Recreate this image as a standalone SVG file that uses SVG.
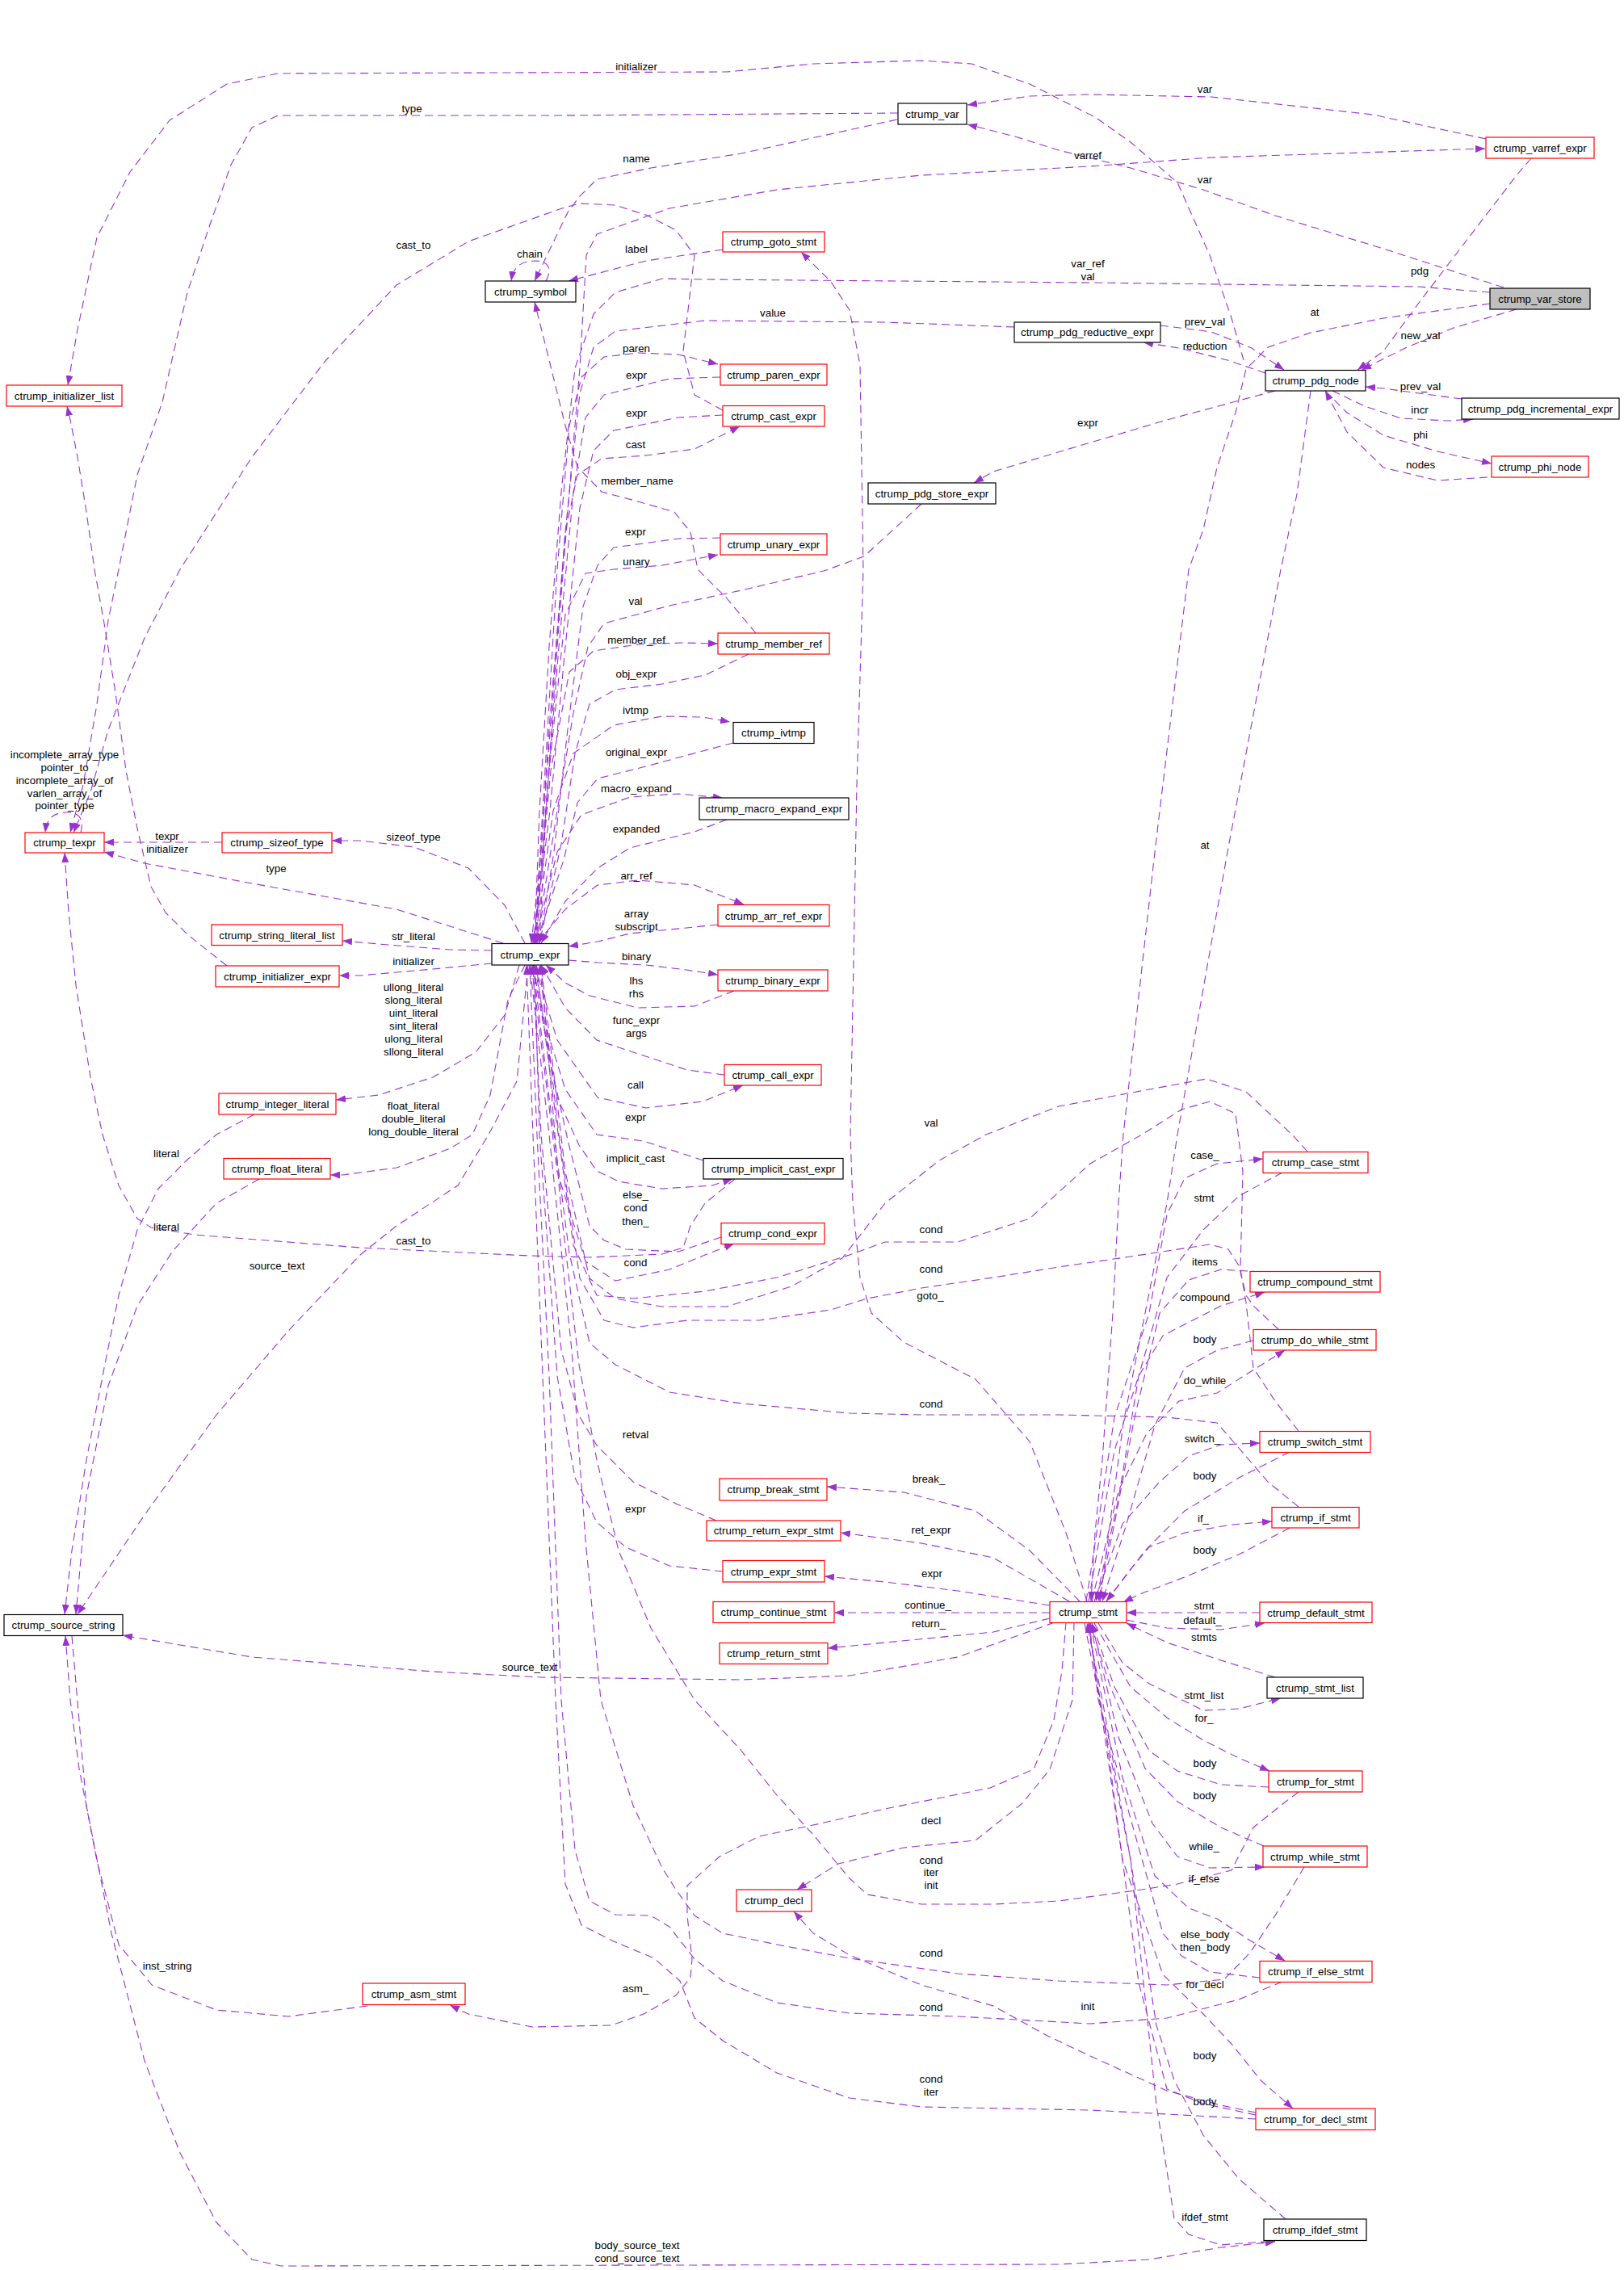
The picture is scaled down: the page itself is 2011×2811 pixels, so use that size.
<svg xmlns="http://www.w3.org/2000/svg" width="2011" height="2811" viewBox="0 0 2011 2811">
<defs>
<marker id="a" viewBox="0 0 12 9" refX="12" refY="4.5" markerWidth="12" markerHeight="9" markerUnits="userSpaceOnUse" orient="auto"><path d="M0,0 L12,4.5 L0,9 z" fill="#9a32cd"/></marker>
</defs>
<style>
text{font-family:"Liberation Sans",Arial,sans-serif;font-size:13.3px;fill:#000;text-anchor:middle;dominant-baseline:central}
.nd rect{fill:#fff;stroke-width:1.2}
.r rect{stroke:#ff0000}
.k rect{stroke:#000}
#edges path{fill:none;stroke:#9a32cd;stroke-width:1.1;stroke-dasharray:10,6;stroke-linejoin:round;marker-end:url(#a)}
</style>
<rect x="0" y="0" width="2011" height="2811" fill="#fff"/>
<g id="edges">
<path d="M1540,446 L1525,394 1498,316 1458,226 1400,176 1356,145 1275,104 1203,79 1141,75 1007,79 900,89 344,91 281,104 210,149 161,213 120,294 96,408 84,477"/>
<path d="M1840,172 L1700,142 1500,120 1350,117 1275,119 1198,130"/>
<path d="M1862,356 L1713,308 1579,267 1490,235 1400,208 1311,186 1260,170 1198,154"/>
<path d="M668,1168 L676,1004 690,801 705,609 718,456 726,316 739,290 829,258 962,235 1141,217 1350,206 1500,195 1839,184"/>
<path d="M1845,362 L1757,355 1350,350 873,346 820,345 762,362 735,389 712,456 695,609 680,801 668,1004 662,1168"/>
<path d="M1256,405 L1096,399 873,397 762,410 735,430 718,487 700,659 685,852 670,1055 658,1168"/>
<path d="M892,467 L829,469 748,489 725,517 710,609 692,801 676,1004 664,1168"/>
<path d="M895,514 L840,517 760,533 735,558 718,629 700,801 681,1004 660,1168"/>
<path d="M892,666 L840,667 760,678 740,700 722,751 703,903 686,1055 668,1168"/>
<path d="M1141,624 L1070,689 1020,707 918,731 829,750 748,772 728,801 710,883 690,1004 664,1168"/>
<path d="M927,810 L873,836 820,847 762,854 730,872 712,933 695,1045 668,1168"/>
<path d="M908,920 L870,930 800,949 740,964 715,994 698,1065 664,1168"/>
<path d="M900,1015 L860,1030 780,1050 740,1075 700,1116 670,1168"/>
<path d="M889,1145 L850,1149 780,1156 740,1166 704,1172"/>
<path d="M662,1168 L675,954 690,705 705,527 720,467 748,442 790,437 840,439 889,451"/>
<path d="M662,1168 L680,903 700,659 715,588 745,568 800,564 860,556 916,528"/>
<path d="M662,1168 L680,954 700,761 725,710 760,705 820,700 889,687"/>
<path d="M662,1168 L682,954 705,832 735,806 790,798 845,796 889,797"/>
<path d="M662,1168 L685,1004 710,933 760,898 820,887 870,888 904,894"/>
<path d="M662,1168 L690,1055 720,1009 780,987 840,983 895,988"/>
<path d="M665,1168 L700,1126 740,1096 790,1090 860,1096 921,1120"/>
<path d="M650,1168 L625,1121 580,1075 513,1049 446,1041 411,1041"/>
<path d="M623,1168 L491,1126 312,1094 179,1069 129,1055"/>
<path d="M704,1189 L740,1192 800,1195 850,1201 889,1207"/>
<path d="M909,1227 L860,1246 790,1248 730,1233 700,1217 676,1195"/>
<path d="M897,1331 L851,1325 739,1288 700,1248 670,1195"/>
<path d="M662,1195 L690,1288 740,1359 800,1372 870,1364 920,1344"/>
<path d="M871,1437 L797,1413 739,1405 700,1349 675,1268 662,1195"/>
<path d="M660,1195 L690,1359 717,1418 739,1450 766,1463 820,1472 882,1468 907,1460"/>
<path d="M893,1532 L840,1550 775,1547 748,1536 730,1518 705,1420 680,1309 660,1195"/>
<path d="M658,1195 L690,1451 725,1562 762,1586 829,1572 873,1554 909,1540"/>
<path d="M910,1460 L873,1490 855,1518 846,1545 820,1553 730,1557 656,1555 446,1545 241,1529 187,1520 170,1509 147,1468 127,1405 112,1334 94,1220 85,1130 80,1056"/>
<path d="M609,1177 L558,1176 469,1169 424,1165"/>
<path d="M609,1193 L536,1200 446,1208 420,1208"/>
<path d="M643,1195 L625,1257 589,1303 536,1334 469,1356 416,1362"/>
<path d="M650,1195 L629,1238 607,1356 585,1405 558,1422 491,1446 424,1455 409,1455"/>
<path d="M654,1195 L640,1339 605,1405 567,1468 491,1518 446,1554 357,1648 268,1752 179,1876 96,1999"/>
<path d="M315,1380 L268,1405 232,1436 196,1472 170,1523 147,1604 129,1694 107,1808 89,1920 80,1999"/>
<path d="M321,1460 L268,1490 214,1549 170,1617 134,1716 107,1852 94,1999"/>
<path d="M887,1883 L837,1862 784,1835 739,1790 717,1753 695,1672 670,1405 660,1195"/>
<path d="M895,1946 L829,1939 775,1916 739,1885 712,1830 690,1704 668,1405 662,1195"/>
<path d="M1619,1426 L1601,1406 1543,1352 1494,1336 1396,1354 1311,1370 1221,1405 1163,1437 1096,1490 1043,1558 980,1593 900,1618 820,1618 762,1608 730,1583 700,1451 670,1195"/>
<path d="M1608,1772 L1579,1735 1552,1694 1543,1613 1536,1572 1539,1451 1530,1379 1498,1364 1463,1374 1414,1405 1350,1441 1275,1509 1186,1538 1096,1538 1052,1554 962,1582 873,1599 784,1608 739,1604 710,1542 685,1359 664,1195"/>
<path d="M1583,1646 L1552,1617 1543,1604 1534,1567 1521,1547 1498,1541 1400,1556 1311,1569 1230,1582 1141,1595 1074,1608 1029,1622 940,1635 851,1635 784,1644 748,1635 718,1583 692,1405 668,1195"/>
<path d="M1608,1866 L1570,1835 1534,1793 1507,1762 1445,1755 1311,1752 1141,1752 1052,1750 918,1738 829,1724 762,1690 730,1663 705,1552 680,1359 660,1195"/>
<path d="M1608,2219 L1592,2231 1552,2263 1525,2316 1458,2333 1414,2340 1311,2354 1230,2358 1141,2358 1074,2346 1052,2326 1007,2272 962,2223 918,2168 860,2105 806,2016 766,1920 739,1808 717,1690 695,1501 670,1195"/>
<path d="M1615,2312 L1579,2372 1548,2418 1516,2451 1445,2458 1311,2453 1186,2444 1052,2425 962,2408 895,2394 860,2372 837,2340 820,2313 784,2236 744,2105 725,1907 708,1672 680,1405 656,1195"/>
<path d="M1588,2454 L1534,2476 1445,2499 1350,2506 1186,2497 1052,2493 962,2480 895,2453 860,2426 829,2386 806,2372 762,2371 730,2354 712,2291 695,2105 680,1704 665,1405 656,1195"/>
<path d="M1555,2624 L1445,2618 1350,2613 1141,2609 1052,2598 962,2567 895,2527 860,2499 842,2453 810,2425 760,2404 720,2384 700,2333 688,2105 672,1704 660,1405 652,1195"/>
<path d="M1346,1983 L1320,1898 1275,1785 1208,1708 1119,1662 1079,1626 1065,1582 1056,1490 1053,1405 1061,972 1069,705 1065,452 1052,384 1029,349 992,312"/>
<path d="M1337,1983 L1275,1920 1208,1871 1119,1848 1024,1841"/>
<path d="M1324,1983 L1230,1929 1141,1911 1041,1898"/>
<path d="M1300,1988 L1186,1970 1096,1959 1021,1952"/>
<path d="M1300,1997 L1033,1997"/>
<path d="M1300,2004 L1230,2021 1096,2034 1025,2041"/>
<path d="M1306,2009 L1186,2052 1052,2075 918,2080 670,2077 536,2070 312,2052 152,2025"/>
<path d="M1320,2009 L1315,2069 1305,2130 1280,2191 1226,2214 1096,2240 1007,2260 940,2274 891,2299 851,2335 851,2372 857,2426 855,2449 837,2471 797,2494 757,2508 659,2510 580,2494 557,2483"/>
<path d="M1330,2009 L1328,2105 1300,2191 1266,2233 1208,2279 1119,2288 1038,2308 987,2340"/>
<path d="M1555,2616 L1512,2607 1445,2589 1350,2546 1297,2521 1230,2484 1141,2458 1052,2421 1007,2394 983,2367"/>
<path d="M1845,376 L1713,394 1623,412 1570,430 1543,457 1530,511 1507,579 1490,656 1472,705 1430,1055 1391,1405 1385,1490 1378,1626 1365,1808 1356,1898 1351,1983"/>
<path d="M1623,484 L1606,612 1586,705 1520,1055 1458,1405 1445,1490 1418,1626 1391,1762 1373,1898 1362,1983"/>
<path d="M1588,1452 L1534,1481 1490,1523 1445,1582 1410,1704 1385,1856 1357,1983"/>
<path d="M1561,1575 L1512,1572 1472,1585 1436,1626 1405,1755 1380,1887 1360,1983"/>
<path d="M1552,1660 L1507,1672 1467,1694 1430,1765 1395,1887 1365,1983"/>
<path d="M1597,1798 L1534,1830 1467,1871 1418,1920 1370,1983"/>
<path d="M1597,1892 L1534,1925 1467,1953 1414,1973 1391,1984"/>
<path d="M1560,1997 L1395,1997"/>
<path d="M1345,1983 L1380,1755 1423,1626 1445,1504 1467,1459 1507,1441 1564,1435"/>
<path d="M1348,1983 L1380,1796 1410,1704 1440,1654 1467,1640 1512,1617 1566,1600"/>
<path d="M1352,1983 L1385,1846 1420,1775 1460,1735 1507,1725 1548,1699 1591,1672"/>
<path d="M1355,1983 L1390,1887 1436,1835 1472,1803 1512,1789 1560,1787"/>
<path d="M1370,1983 L1400,1943 1423,1916 1467,1898 1525,1888 1575,1884"/>
<path d="M1395,2006 L1445,2016 1512,2018 1566,2010"/>
<path d="M1579,2077 L1512,2056 1445,2034 1395,2010"/>
<path d="M1360,2010 L1390,2059 1423,2085 1490,2118 1534,2116 1586,2103"/>
<path d="M1355,2010 L1400,2089 1445,2127 1490,2155 1534,2177 1572,2193"/>
<path d="M1571,2213 L1512,2210 1458,2193 1423,2168 1380,2089 1352,2010"/>
<path d="M1565,2286 L1512,2263 1458,2231 1418,2190 1375,2089 1350,2010"/>
<path d="M1352,2010 L1385,2151 1427,2258 1458,2299 1498,2313 1566,2312"/>
<path d="M1350,2010 L1390,2201 1430,2323 1472,2363 1507,2376 1548,2403 1591,2428"/>
<path d="M1560,2449 L1498,2442 1463,2422 1440,2394 1400,2252 1360,2105 1349,2010"/>
<path d="M1348,2010 L1390,2303 1440,2445 1490,2494 1525,2531 1561,2576 1601,2611"/>
<path d="M1555,2619 L1490,2605 1445,2587 1410,2455 1370,2151 1347,2010"/>
<path d="M1592,2748 L1534,2698 1490,2644 1454,2576 1432,2508 1400,2303 1365,2105 1346,2010"/>
<path d="M1343,2010 L1400,2303 1432,2607 1445,2688 1454,2747 1472,2767 1512,2780 1579,2775"/>
<path d="M89,2026 L107,2236 138,2394 179,2552 223,2666 268,2752 312,2798 348,2806 1311,2804 1423,2798 1512,2783 1579,2776"/>
<path d="M455,2484 L357,2497 268,2489 188,2458 147,2408 120,2304 98,2190 87,2105 81,2026"/>
<path d="M1437,403 L1500,411 1550,431 1590,458"/>
<path d="M1567,462 L1520,446 1460,431 1416,424"/>
<path d="M1896,196 L1878,217 1815,299 1757,375 1713,435 1681,458"/>
<path d="M1878,383 L1800,406 1740,431 1686,458"/>
<path d="M1810,494 L1757,487 1713,481 1691,479"/>
<path d="M1650,484 L1690,503 1735,518 1793,521 1824,519"/>
<path d="M1641,484 L1668,511 1713,539 1780,559 1847,574"/>
<path d="M1842,591 L1780,595 1713,579 1668,535 1641,484"/>
<path d="M1579,484 L1445,520 1320,557 1230,584 1206,598"/>
<path d="M676,348 C684,334 680,324 665,323 C648,323 636,327 633,348"/>
<path d="M1111,148 L918,190 806,208 739,222 717,244 703,263 677,317 662,348"/>
<path d="M895,309 L800,323 704,348"/>
<path d="M936,784 L900,741 864,705 855,659 835,634 790,621 745,609 715,578 700,527 680,446 662,374"/>
<path d="M1112,140 L690,143 344,143 312,158 286,204 259,281 232,362 201,498 170,588 147,705 134,768 120,872 103,972 87,1031"/>
<path d="M895,508 L860,489 846,435 860,316 837,285 802,267 762,254 717,252 696,258 580,299 491,353 402,448 312,566 223,705 179,790 134,904 112,981 91,1031"/>
<path d="M100,1031 C104,1014 98,1006 84,1006 C68,1006 58,1011 56,1031"/>
<path d="M275,1043 L129,1043"/>
<path d="M281,1196 L232,1157 205,1130 187,1098 170,1026 156,954 143,858 129,772 117,705 107,634 96,566 87,520 83,503"/>
</g>
<g id="labels">
<text x="788" y="82">initializer</text>
<text x="510" y="134">type</text>
<text x="1492" y="110">var</text>
<text x="1347" y="192">varref</text>
<text x="1492" y="222">var</text>
<text x="788" y="196">name</text>
<text x="656" y="314">chain</text>
<text x="788" y="308">label</text>
<text x="512" y="303">cast_to</text>
<text x="1347" y="326">var_ref</text>
<text x="1347" y="342">val</text>
<text x="1758" y="335">pdg</text>
<text x="1628" y="386">at</text>
<text x="1759" y="415">new_val</text>
<text x="1492" y="398">prev_val</text>
<text x="1492" y="428">reduction</text>
<text x="957" y="387">value</text>
<text x="788" y="431">paren</text>
<text x="788" y="464">expr</text>
<text x="788" y="511">expr</text>
<text x="787" y="550">cast</text>
<text x="1759" y="478">prev_val</text>
<text x="1758" y="507">incr</text>
<text x="1759" y="538">phi</text>
<text x="1759" y="575">nodes</text>
<text x="1347" y="523">expr</text>
<text x="789" y="595">member_name</text>
<text x="787" y="658">expr</text>
<text x="788" y="695">unary</text>
<text x="787" y="744">val</text>
<text x="788" y="792">member_ref</text>
<text x="788" y="834">obj_expr</text>
<text x="787" y="879">ivtmp</text>
<text x="788" y="931">original_expr</text>
<text x="788" y="976">macro_expand</text>
<text x="788" y="1026">expanded</text>
<text x="788" y="1084">arr_ref</text>
<text x="788" y="1131">array</text>
<text x="788" y="1147">subscript</text>
<text x="788" y="1184">binary</text>
<text x="788" y="1214">lhs</text>
<text x="788" y="1230">rhs</text>
<text x="788" y="1263">func_expr</text>
<text x="788" y="1279">args</text>
<text x="787" y="1343">call</text>
<text x="787" y="1383">expr</text>
<text x="787" y="1434">implicit_cast</text>
<text x="787" y="1479">else_</text>
<text x="787" y="1495">cond</text>
<text x="787" y="1512">then_</text>
<text x="787" y="1563">cond</text>
<text x="787" y="1776">retval</text>
<text x="787" y="1868">expr</text>
<text x="80" y="934">incomplete_array_type</text>
<text x="80" y="950">pointer_to</text>
<text x="80" y="966">incomplete_array_of</text>
<text x="80" y="982">varlen_array_of</text>
<text x="80" y="997">pointer_type</text>
<text x="207" y="1035">texpr</text>
<text x="207" y="1051">initializer</text>
<text x="342" y="1075">type</text>
<text x="512" y="1036">sizeof_type</text>
<text x="512" y="1159">str_literal</text>
<text x="512" y="1190">initializer</text>
<text x="512" y="1222">ullong_literal</text>
<text x="512" y="1238">slong_literal</text>
<text x="512" y="1254">uint_literal</text>
<text x="512" y="1270">sint_literal</text>
<text x="512" y="1286">ulong_literal</text>
<text x="512" y="1302">sllong_literal</text>
<text x="512" y="1369">float_literal</text>
<text x="512" y="1385">double_literal</text>
<text x="512" y="1401">long_double_literal</text>
<text x="206" y="1428">literal</text>
<text x="206" y="1519">literal</text>
<text x="512" y="1536">cast_to</text>
<text x="343" y="1567">source_text</text>
<text x="1492" y="1046">at</text>
<text x="1153" y="1390">val</text>
<text x="1153" y="1522">cond</text>
<text x="1153" y="1571">cond</text>
<text x="1152" y="1604">goto_</text>
<text x="1153" y="1738">cond</text>
<text x="1150" y="1831">break_</text>
<text x="1153" y="1894">ret_expr</text>
<text x="1154" y="1948">expr</text>
<text x="1149" y="1987">continue_</text>
<text x="1150" y="2010">return_</text>
<text x="656" y="2064">source_text</text>
<text x="1492" y="1430">case_</text>
<text x="1491" y="1483">stmt</text>
<text x="1492" y="1562">items</text>
<text x="1492" y="1606">compound</text>
<text x="1492" y="1658">body</text>
<text x="1492" y="1709">do_while</text>
<text x="1489" y="1781">switch_</text>
<text x="1492" y="1827">body</text>
<text x="1490" y="1880">if_</text>
<text x="1492" y="1919">body</text>
<text x="1491" y="1988">stmt</text>
<text x="1489" y="2006">default_</text>
<text x="1491" y="2027">stmts</text>
<text x="1491" y="2099">stmt_list</text>
<text x="1491" y="2127">for_</text>
<text x="1492" y="2183">body</text>
<text x="1492" y="2223">body</text>
<text x="1491" y="2286">while_</text>
<text x="1491" y="2326">if_else</text>
<text x="1492" y="2395">else_body</text>
<text x="1492" y="2411">then_body</text>
<text x="1492" y="2457">for_decl</text>
<text x="1347" y="2484">init</text>
<text x="1492" y="2545">body</text>
<text x="1492" y="2602">body</text>
<text x="1492" y="2745">ifdef_stmt</text>
<text x="1153" y="2254">decl</text>
<text x="1153" y="2303">cond</text>
<text x="1153" y="2318">iter</text>
<text x="1153" y="2334">init</text>
<text x="1153" y="2418">cond</text>
<text x="1153" y="2485">cond</text>
<text x="1153" y="2574">cond</text>
<text x="1153" y="2590">iter</text>
<text x="787" y="2462">asm_</text>
<text x="207" y="2434">inst_string</text>
<text x="789" y="2780">body_source_text</text>
<text x="789" y="2796">cond_source_text</text>
</g>
<g id="nodes">
<g id="n_initializer_list" class="nd r"><rect x="8" y="477" width="143" height="26"/><text x="79.5" y="490">ctrump_initializer_list</text></g>
<g id="n_symbol" class="nd k"><rect x="601" y="348" width="112" height="26"/><text x="657" y="361">ctrump_symbol</text></g>
<g id="n_var" class="nd k"><rect x="1112" y="128" width="85" height="26"/><text x="1154.5" y="141">ctrump_var</text></g>
<g id="n_goto_stmt" class="nd r"><rect x="895" y="287" width="126" height="25"/><text x="958" y="299.5">ctrump_goto_stmt</text></g>
<g id="n_pdg_reductive_expr" class="nd k"><rect x="1256" y="399" width="181" height="25"/><text x="1346.5" y="411.5">ctrump_pdg_reductive_expr</text></g>
<g id="n_paren_expr" class="nd r"><rect x="892" y="451" width="132" height="26"/><text x="958" y="464">ctrump_paren_expr</text></g>
<g id="n_cast_expr" class="nd r"><rect x="895" y="502.5" width="126" height="25.5"/><text x="958" y="515">ctrump_cast_expr</text></g>
<g id="n_pdg_store_expr" class="nd k"><rect x="1075" y="598" width="158" height="26"/><text x="1154" y="611">ctrump_pdg_store_expr</text></g>
<g id="n_unary_expr" class="nd r"><rect x="892" y="661" width="132" height="26"/><text x="958" y="674">ctrump_unary_expr</text></g>
<g id="n_varref_expr" class="nd r"><rect x="1840" y="170" width="134" height="26"/><text x="1907" y="183">ctrump_varref_expr</text></g>
<g id="n_var_store" class="nd k"><rect x="1845" y="357" width="124" height="26" style="fill:#bfbfbf"/><text x="1907" y="370">ctrump_var_store</text></g>
<g id="n_pdg_node" class="nd k"><rect x="1567" y="458.5" width="124" height="25.5"/><text x="1629" y="471">ctrump_pdg_node</text></g>
<g id="n_pdg_incremental_expr" class="nd k"><rect x="1810" y="493" width="195" height="26"/><text x="1907.5" y="506">ctrump_pdg_incremental_expr</text></g>
<g id="n_phi_node" class="nd r"><rect x="1847" y="565" width="120" height="26"/><text x="1907" y="578">ctrump_phi_node</text></g>
<g id="n_texpr" class="nd r"><rect x="31" y="1031" width="98" height="25"/><text x="80" y="1043.5">ctrump_texpr</text></g>
<g id="n_sizeof_type" class="nd r"><rect x="275" y="1031" width="136" height="25"/><text x="343" y="1043.5">ctrump_sizeof_type</text></g>
<g id="n_string_literal_list" class="nd r"><rect x="262" y="1145" width="162" height="25.5"/><text x="343" y="1158">ctrump_string_literal_list</text></g>
<g id="n_initializer_expr" class="nd r"><rect x="267" y="1196" width="153" height="26"/><text x="343.5" y="1209">ctrump_initializer_expr</text></g>
<g id="n_expr" class="nd k"><rect x="609" y="1168.5" width="95" height="26.5"/><text x="656.5" y="1182">ctrump_expr</text></g>
<g id="n_integer_literal" class="nd r"><rect x="271" y="1354" width="145" height="26"/><text x="343.5" y="1367">ctrump_integer_literal</text></g>
<g id="n_member_ref" class="nd r"><rect x="889" y="784" width="138" height="26"/><text x="958" y="797">ctrump_member_ref</text></g>
<g id="n_ivtmp" class="nd k"><rect x="908" y="894.5" width="100" height="26"/><text x="958" y="907.5">ctrump_ivtmp</text></g>
<g id="n_macro_expand_expr" class="nd k"><rect x="866" y="988" width="185" height="27"/><text x="958.5" y="1001.5">ctrump_macro_expand_expr</text></g>
<g id="n_arr_ref_expr" class="nd r"><rect x="889" y="1120.5" width="138" height="26.5"/><text x="958" y="1134">ctrump_arr_ref_expr</text></g>
<g id="n_binary_expr" class="nd r"><rect x="889" y="1201" width="136" height="26"/><text x="957" y="1214">ctrump_binary_expr</text></g>
<g id="n_call_expr" class="nd r"><rect x="897" y="1318.5" width="120" height="25.5"/><text x="957" y="1331">ctrump_call_expr</text></g>
<g id="n_float_literal" class="nd r"><rect x="277" y="1434.5" width="132" height="25.5"/><text x="343" y="1447">ctrump_float_literal</text></g>
<g id="n_source_string" class="nd k"><rect x="5" y="1999.5" width="147" height="26"/><text x="78.5" y="2012.5">ctrump_source_string</text></g>
<g id="n_implicit_cast_expr" class="nd k"><rect x="871" y="1434.5" width="173" height="25.5"/><text x="957.5" y="1447">ctrump_implicit_cast_expr</text></g>
<g id="n_cond_expr" class="nd r"><rect x="893" y="1514.5" width="128" height="26"/><text x="957" y="1527.5">ctrump_cond_expr</text></g>
<g id="n_break_stmt" class="nd r"><rect x="891" y="1831" width="133" height="27"/><text x="957.5" y="1844.5">ctrump_break_stmt</text></g>
<g id="n_return_expr_stmt" class="nd r"><rect x="875" y="1883" width="166" height="25"/><text x="958" y="1895.5">ctrump_return_expr_stmt</text></g>
<g id="n_expr_stmt" class="nd r"><rect x="895" y="1932.5" width="126" height="26.5"/><text x="958" y="1946">ctrump_expr_stmt</text></g>
<g id="n_continue_stmt" class="nd r"><rect x="883" y="1983.5" width="150" height="26"/><text x="958" y="1996.5">ctrump_continue_stmt</text></g>
<g id="n_return_stmt" class="nd r"><rect x="891" y="2034.5" width="134" height="26"/><text x="958" y="2047.5">ctrump_return_stmt</text></g>
<g id="n_stmt" class="nd r"><rect x="1300" y="1983.5" width="95" height="26"/><text x="1347.5" y="1996.5">ctrump_stmt</text></g>
<g id="n_case_stmt" class="nd r"><rect x="1564" y="1426.5" width="130" height="26"/><text x="1629" y="1439.5">ctrump_case_stmt</text></g>
<g id="n_compound_stmt" class="nd r"><rect x="1548" y="1574.5" width="161" height="25.5"/><text x="1628.5" y="1587">ctrump_compound_stmt</text></g>
<g id="n_do_while_stmt" class="nd r"><rect x="1552" y="1646.5" width="152" height="25.5"/><text x="1628" y="1659">ctrump_do_while_stmt</text></g>
<g id="n_switch_stmt" class="nd r"><rect x="1560" y="1772.5" width="137" height="26"/><text x="1628.5" y="1785.5">ctrump_switch_stmt</text></g>
<g id="n_if_stmt" class="nd r"><rect x="1575" y="1866.5" width="108" height="25.5"/><text x="1629" y="1879">ctrump_if_stmt</text></g>
<g id="n_default_stmt" class="nd r"><rect x="1560" y="1984" width="139" height="25.5"/><text x="1629.5" y="1997">ctrump_default_stmt</text></g>
<g id="n_stmt_list" class="nd k"><rect x="1569" y="2077" width="119" height="26"/><text x="1628.5" y="2090">ctrump_stmt_list</text></g>
<g id="n_asm_stmt" class="nd r"><rect x="449" y="2456" width="127" height="26.5"/><text x="512.5" y="2469.5">ctrump_asm_stmt</text></g>
<g id="n_decl" class="nd r"><rect x="912" y="2340" width="93" height="27"/><text x="958.5" y="2353.5">ctrump_decl</text></g>
<g id="n_for_stmt" class="nd r"><rect x="1571" y="2193" width="116" height="26"/><text x="1629" y="2206">ctrump_for_stmt</text></g>
<g id="n_while_stmt" class="nd r"><rect x="1564" y="2286" width="129" height="26"/><text x="1628.5" y="2299">ctrump_while_stmt</text></g>
<g id="n_if_else_stmt" class="nd r"><rect x="1560" y="2428.5" width="139" height="26"/><text x="1629.5" y="2441.5">ctrump_if_else_stmt</text></g>
<g id="n_for_decl_stmt" class="nd r"><rect x="1555" y="2611" width="148" height="26.5"/><text x="1629" y="2624.5">ctrump_for_decl_stmt</text></g>
<g id="n_ifdef_stmt" class="nd k"><rect x="1565" y="2748" width="127" height="26.5"/><text x="1628.5" y="2761.5">ctrump_ifdef_stmt</text></g>
</g>
</svg>
